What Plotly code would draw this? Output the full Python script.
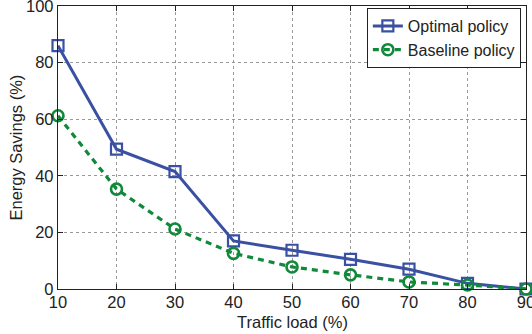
import plotly.graph_objects as go

traffic_load = [10, 20, 30, 40, 50, 60, 70, 80, 90]
optimal_policy = [86, 49.4, 41.5, 17, 13.7, 10.5, 7, 2, 0]
baseline_policy = [61.2, 35.3, 21.2, 12.6, 7.8, 5, 2.5, 1.4, 0]

blue = "#3a50a2"
green = "#10893b"
font_family = "Liberation Sans, Arial, sans-serif"

fig = go.Figure()
fig.add_trace(go.Scatter(
    x=traffic_load, y=optimal_policy, name="Optimal policy",
    mode="lines+markers",
    line=dict(color=blue, width=3),
    marker=dict(symbol="square-open", size=11, color=blue, line=dict(width=2.2, color=blue)),
    cliponaxis=False,
))
fig.add_trace(go.Scatter(
    x=traffic_load, y=baseline_policy, name="Baseline policy",
    mode="lines+markers",
    line=dict(color=green, width=3.2, dash="6px,5px"),
    marker=dict(symbol="circle-open", size=11, color=green, line=dict(width=2.6, color=green)),
    cliponaxis=False,
))

axis_common = dict(
    showline=True, linecolor="#222", linewidth=1.3, mirror="ticks",
    ticks="inside", ticklen=5, tickcolor="#222",
    showgrid=True, gridcolor="#999", griddash="dot", gridwidth=1,
    zeroline=False, ticklabeloverflow="allow", automargin=False,
    tickfont=dict(family=font_family, size=16.5, color="#222"),
)

fig.update_layout(
    width=532, height=334,
    margin=dict(l=58, r=6, t=6, b=45),
    plot_bgcolor="white", paper_bgcolor="white",
    font=dict(family=font_family, color="#222"),
    xaxis=dict(range=[10, 90], tickvals=traffic_load, ticklabelstandoff=-2,
               **axis_common),
    yaxis=dict(range=[0, 100], tickvals=[0, 20, 40, 60, 80, 100], **axis_common),
    legend=dict(x=0.989, y=0.993, xanchor="right", yanchor="top",
                bgcolor="white", bordercolor="#222", borderwidth=1,
                font=dict(size=16, color="#222"),
                tracegroupgap=0, itemwidth=30),
    showlegend=True,
)

# axis titles
fig.add_annotation(text="Traffic load (%)", xref="paper", yref="paper",
                   x=0.5, y=0, yshift=-33, yanchor="middle", showarrow=False,
                   font=dict(size=16.5, family=font_family, color="#222"))
fig.add_annotation(text="Energy Savings (%)", xref="paper", yref="paper",
                   x=0, y=0.5, xshift=-43, xanchor="center", textangle=-90,
                   showarrow=False,
                   font=dict(size=16.5, family=font_family, color="#222"))

fig.write_html("out.html")
